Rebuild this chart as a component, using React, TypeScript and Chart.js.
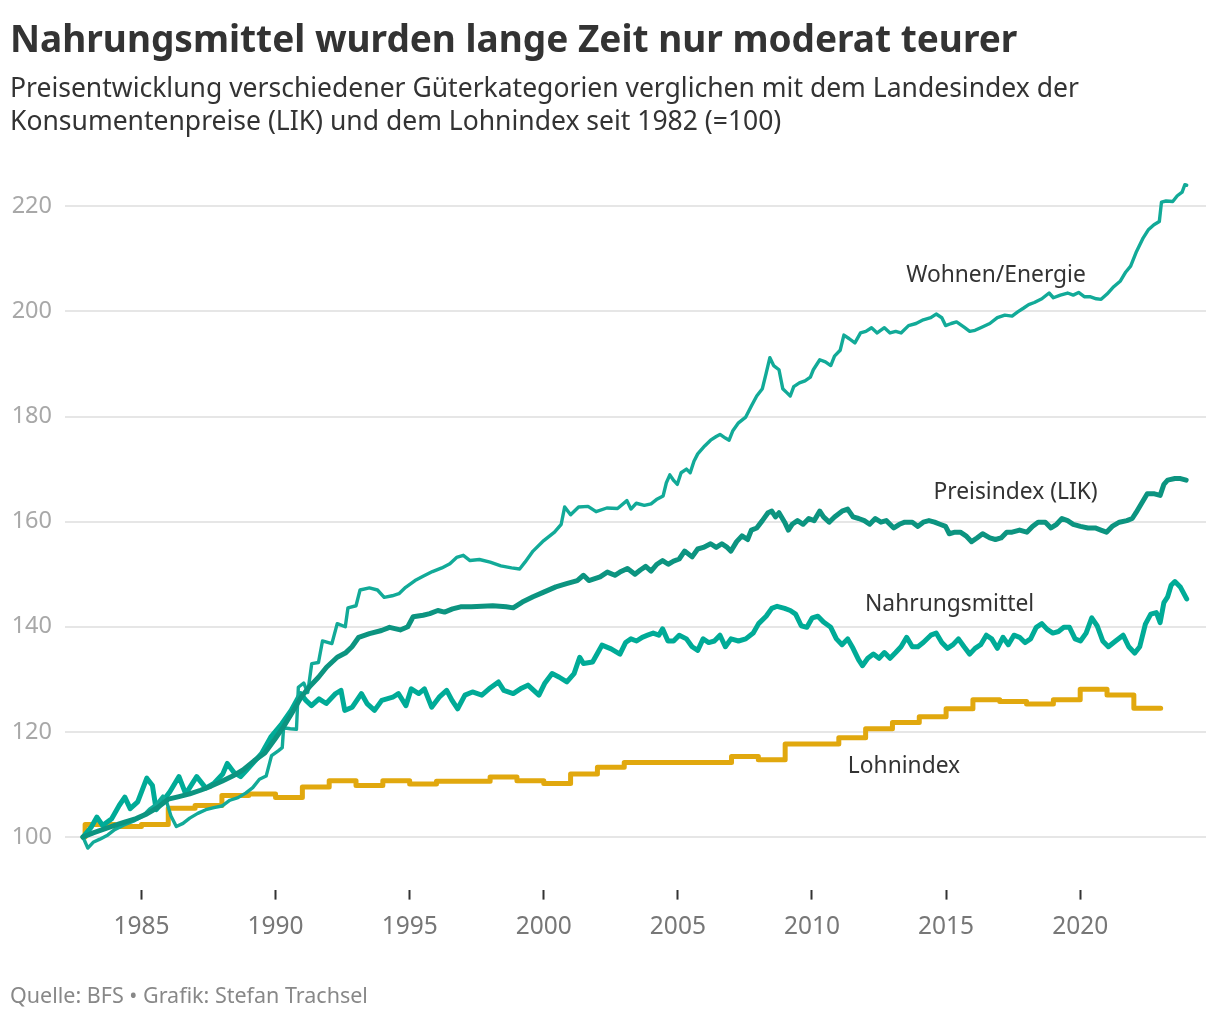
import React, { useEffect, useRef } from "react";
import { Chart, registerables } from "chart.js";

Chart.register(...registerables);

const FONT = '"Noto Sans", "DejaVu Sans", sans-serif';

const titleText = "Nahrungsmittel wurden lange Zeit nur moderat teurer";
const subtitleLine1 = "Preisentwicklung verschiedener Güterkategorien verglichen mit dem Landesindex der";
const subtitleLine2 = "Konsumentenpreise (LIK) und dem Lohnindex seit 1982 (=100)";
const sourceText = "Quelle: BFS • Grafik: Stefan Trachsel";

const yTicks = [100, 120, 140, 160, 180, 200, 220];
const xTicks = [1985, 1990, 1995, 2000, 2005, 2010, 2015, 2020];

// [year, index]
const wohnenEnergie: [number, number][] = [
  [1982.82, 100], [1983.0, 97.9], [1983.2, 99.0], [1983.45, 99.6], [1983.75, 100.4], [1984.0, 101.4],
  [1984.35, 102.3], [1984.7, 103.0], [1985.05, 104.0], [1985.3, 105.3], [1985.55, 106.2], [1985.8, 107.8],
  [1985.95, 106.5], [1986.1, 104.0], [1986.3, 102.0], [1986.55, 102.6], [1986.8, 103.6], [1987.1, 104.5],
  [1987.4, 105.2], [1987.7, 105.6], [1988.0, 105.9], [1988.3, 107.0], [1988.6, 107.5], [1988.9, 108.4],
  [1989.15, 109.4], [1989.4, 111.0], [1989.65, 111.6], [1989.85, 115.5], [1990.1, 116.4], [1990.25, 117.0],
  [1990.3, 120.8], [1990.55, 120.6], [1990.78, 120.5], [1990.85, 128.5], [1991.05, 129.3], [1991.2, 127.5],
  [1991.35, 133.0], [1991.6, 133.2], [1991.75, 137.3], [1992.1, 136.8], [1992.3, 140.6], [1992.6, 140.0],
  [1992.7, 143.6], [1993.0, 144.0], [1993.15, 147.0], [1993.5, 147.4], [1993.8, 147.0], [1994.05, 145.6],
  [1994.35, 145.9], [1994.6, 146.3], [1994.85, 147.5], [1995.2, 148.8], [1995.5, 149.6], [1995.85, 150.5],
  [1996.2, 151.2], [1996.5, 152.0], [1996.75, 153.2], [1997.0, 153.6], [1997.25, 152.6], [1997.6, 152.8],
  [1998.0, 152.3], [1998.4, 151.6], [1998.8, 151.2], [1999.1, 151.0], [1999.3, 152.3], [1999.6, 154.4],
  [2000.0, 156.4], [2000.4, 158.0], [2000.65, 159.5], [2000.78, 162.8], [2001.0, 161.3], [2001.3, 162.8],
  [2001.65, 162.9], [2001.95, 161.9], [2002.35, 162.6], [2002.75, 162.5], [2003.1, 164.0], [2003.25, 162.4],
  [2003.45, 163.5], [2003.75, 163.1], [2004.0, 163.4], [2004.2, 164.2], [2004.45, 164.9], [2004.57, 167.4],
  [2004.7, 168.9], [2004.85, 167.8], [2004.98, 167.1], [2005.12, 169.3], [2005.32, 170.0], [2005.46, 169.3],
  [2005.6, 171.5], [2005.74, 172.9], [2006.0, 174.4], [2006.22, 175.5], [2006.43, 176.2], [2006.57, 176.6],
  [2006.77, 175.9], [2006.91, 175.5], [2007.05, 177.3], [2007.26, 178.8], [2007.53, 179.9], [2007.74, 182.0],
  [2007.94, 183.9], [2008.15, 185.3], [2008.29, 188.2], [2008.43, 191.2], [2008.57, 189.7], [2008.77, 188.9],
  [2008.91, 185.3], [2009.05, 184.6], [2009.19, 183.9], [2009.32, 185.7], [2009.53, 186.4], [2009.74, 186.8],
  [2009.94, 187.5], [2010.05, 188.9], [2010.29, 190.8], [2010.5, 190.4], [2010.7, 189.7], [2010.84, 191.5],
  [2011.05, 192.6], [2011.19, 195.5], [2011.39, 194.8], [2011.6, 194.0], [2011.81, 195.9], [2012.01, 196.2],
  [2012.22, 196.9], [2012.43, 195.9], [2012.7, 196.9], [2012.91, 195.9], [2013.12, 196.2], [2013.32, 195.9],
  [2013.6, 197.3], [2013.88, 197.7], [2014.15, 198.4], [2014.43, 198.8], [2014.63, 199.5], [2014.84, 198.8],
  [2014.98, 197.3], [2015.19, 197.7], [2015.39, 198.0], [2015.67, 197.0], [2015.88, 196.2], [2016.08, 196.4],
  [2016.29, 196.9], [2016.63, 197.7], [2016.91, 198.8], [2017.19, 199.3], [2017.46, 199.1], [2017.67, 199.9],
  [2017.88, 200.6], [2018.08, 201.3], [2018.29, 201.7], [2018.57, 202.4], [2018.84, 203.5], [2019.0, 202.6],
  [2019.26, 203.1], [2019.53, 203.5], [2019.74, 203.1], [2019.94, 203.6], [2020.15, 202.8], [2020.36, 202.8],
  [2020.6, 202.4], [2020.78, 202.3], [2021.0, 203.3], [2021.25, 204.7], [2021.5, 205.8], [2021.7, 207.5],
  [2021.88, 208.6], [2022.1, 211.4], [2022.35, 214.0], [2022.55, 215.6], [2022.75, 216.5], [2022.95, 217.1],
  [2023.03, 220.8], [2023.2, 221.0], [2023.45, 220.9], [2023.62, 222.0], [2023.8, 222.7], [2023.9, 224.1],
  [2023.97, 224.0],
];

const preisindexLIK: [number, number][] = [
  [1982.82, 100], [1983.2, 100.8], [1983.6, 101.5], [1984.0, 102.2], [1984.4, 102.9], [1984.8, 103.5],
  [1985.2, 104.4], [1985.6, 105.6], [1986.0, 107.2], [1986.4, 107.7], [1986.8, 108.2], [1987.2, 108.9],
  [1987.6, 109.7], [1988.0, 110.6], [1988.4, 111.6], [1988.8, 112.8], [1989.2, 114.5], [1989.6, 116.0],
  [1990.0, 118.8], [1990.3, 121.0], [1990.6, 123.5], [1990.95, 126.6], [1991.3, 128.8], [1991.6, 130.4],
  [1991.9, 132.3], [1992.3, 134.2], [1992.6, 135.0], [1992.85, 136.2], [1993.1, 138.0], [1993.5, 138.7],
  [1993.95, 139.3], [1994.25, 139.9], [1994.65, 139.4], [1994.93, 140.0], [1995.13, 141.9], [1995.5, 142.2],
  [1995.75, 142.5], [1996.05, 143.1], [1996.3, 142.8], [1996.6, 143.4], [1996.9, 143.8], [1997.3, 143.8],
  [1997.7, 143.9], [1998.1, 144.0], [1998.6, 143.8], [1998.86, 143.6], [1999.2, 144.7], [1999.6, 145.7],
  [2000.0, 146.6], [2000.45, 147.6], [2000.85, 148.2], [2001.25, 148.8], [2001.48, 149.8], [2001.68, 148.8],
  [2002.1, 149.5], [2002.37, 150.4], [2002.65, 149.8], [2002.84, 150.4], [2003.12, 151.1], [2003.4, 150.0],
  [2003.6, 150.8], [2003.8, 151.5], [2004.0, 150.6], [2004.22, 151.9], [2004.43, 152.6], [2004.64, 151.9],
  [2004.84, 152.5], [2005.05, 152.9], [2005.25, 154.4], [2005.53, 153.3], [2005.74, 154.8], [2005.95, 155.1],
  [2006.22, 155.8], [2006.43, 155.1], [2006.64, 155.8], [2006.84, 155.1], [2006.98, 154.4], [2007.19, 156.2],
  [2007.39, 157.3], [2007.6, 156.6], [2007.74, 158.4], [2007.94, 158.8], [2008.15, 160.2], [2008.36, 161.7],
  [2008.5, 162.0], [2008.64, 160.9], [2008.77, 161.7], [2008.98, 159.9], [2009.12, 158.4], [2009.26, 159.5],
  [2009.46, 160.2], [2009.67, 159.5], [2009.88, 160.6], [2010.08, 160.2], [2010.29, 162.0], [2010.43, 160.9],
  [2010.64, 159.9], [2010.84, 160.9], [2011.12, 162.0], [2011.33, 162.4], [2011.53, 160.9], [2011.74, 160.6],
  [2011.95, 160.2], [2012.15, 159.5], [2012.36, 160.6], [2012.57, 159.9], [2012.77, 160.2], [2013.05, 158.8],
  [2013.26, 159.5], [2013.46, 159.9], [2013.74, 159.9], [2013.95, 159.1], [2014.15, 159.9], [2014.36, 160.2],
  [2014.57, 159.9], [2014.77, 159.5], [2014.98, 159.1], [2015.12, 157.7], [2015.33, 158.0], [2015.53, 158.0],
  [2015.74, 157.3], [2015.95, 156.2], [2016.15, 156.9], [2016.36, 157.7], [2016.63, 156.9], [2016.84, 156.6],
  [2017.05, 156.9], [2017.26, 158.0], [2017.46, 158.0], [2017.74, 158.4], [2018.01, 158.0], [2018.22, 159.1],
  [2018.43, 159.9], [2018.7, 159.9], [2018.91, 158.8], [2019.12, 159.5], [2019.32, 160.6], [2019.53, 160.2],
  [2019.74, 159.5], [2020.01, 159.1], [2020.29, 158.8], [2020.56, 158.8], [2020.77, 158.4], [2020.98, 158.0],
  [2021.19, 159.1], [2021.46, 159.9], [2021.74, 160.2], [2021.94, 160.6], [2022.08, 161.7], [2022.29, 163.5],
  [2022.5, 165.3], [2022.77, 165.3], [2022.98, 165.0], [2023.12, 167.1], [2023.26, 167.9], [2023.53, 168.2],
  [2023.74, 168.2], [2023.95, 167.9],
];

const nahrungsmittel: [number, number][] = [
  [1982.82, 100], [1983.13, 101.9], [1983.34, 103.8], [1983.55, 102.2], [1983.89, 103.5], [1984.17, 106.0],
  [1984.38, 107.6], [1984.58, 105.4], [1984.86, 106.7], [1985.2, 111.2], [1985.41, 109.8], [1985.55, 105.2],
  [1985.75, 106.5], [1986.06, 108.6], [1986.4, 111.5], [1986.65, 108.2], [1987.06, 111.5], [1987.4, 109.3],
  [1987.7, 110.2], [1988.03, 112.0], [1988.2, 114.0], [1988.45, 112.3], [1988.7, 111.5], [1988.9, 112.6],
  [1989.2, 114.3], [1989.48, 115.9], [1989.82, 119.0], [1990.24, 121.6], [1990.58, 124.1], [1990.93, 127.3],
  [1991.13, 126.0], [1991.34, 125.0], [1991.62, 126.3], [1991.89, 125.4], [1992.24, 127.3], [1992.44, 127.9],
  [1992.58, 124.1], [1992.86, 124.7], [1993.2, 127.3], [1993.41, 125.4], [1993.69, 124.1], [1993.96, 126.0],
  [1994.37, 126.6], [1994.58, 127.3], [1994.86, 125.0], [1995.06, 128.2], [1995.34, 127.3], [1995.55, 128.2],
  [1995.82, 124.7], [1996.1, 126.6], [1996.38, 127.9], [1996.58, 126.0], [1996.79, 124.4], [1997.06, 127.0],
  [1997.34, 127.6], [1997.69, 127.0], [1997.96, 128.2], [1998.31, 129.5], [1998.51, 127.9], [1998.86, 127.3],
  [1999.13, 128.2], [1999.41, 128.9], [1999.82, 127.0], [2000.03, 129.2], [2000.31, 131.1], [2000.58, 130.4],
  [2000.86, 129.5], [2001.13, 131.1], [2001.34, 134.2], [2001.48, 133.0], [2001.82, 133.3], [2002.17, 136.5],
  [2002.51, 135.8], [2002.84, 134.8], [2003.05, 137.0], [2003.25, 137.7], [2003.46, 137.3], [2003.67, 138.0],
  [2003.87, 138.4], [2004.08, 138.8], [2004.29, 138.4], [2004.43, 139.6], [2004.63, 137.3], [2004.84, 137.3],
  [2005.05, 138.4], [2005.32, 137.7], [2005.53, 136.2], [2005.74, 135.5], [2005.94, 137.7], [2006.15, 137.0],
  [2006.36, 137.3], [2006.57, 138.4], [2006.77, 136.2], [2006.98, 137.7], [2007.26, 137.3], [2007.53, 137.7],
  [2007.81, 138.8], [2008.01, 140.6], [2008.29, 142.0], [2008.5, 143.5], [2008.7, 143.9], [2008.98, 143.5],
  [2009.19, 143.1], [2009.39, 142.4], [2009.6, 140.2], [2009.81, 139.9], [2010.01, 141.7], [2010.22, 142.0],
  [2010.43, 140.9], [2010.7, 139.9], [2010.91, 137.7], [2011.12, 136.6], [2011.33, 137.7], [2011.53, 135.9],
  [2011.74, 133.7], [2011.88, 132.6], [2012.08, 134.0], [2012.29, 134.8], [2012.5, 134.0], [2012.7, 135.1],
  [2012.91, 134.0], [2013.12, 135.1], [2013.32, 136.2], [2013.53, 138.0], [2013.74, 136.2], [2013.95, 136.2],
  [2014.15, 137.0], [2014.43, 138.4], [2014.63, 138.8], [2014.84, 137.0], [2015.05, 135.9], [2015.26, 136.6],
  [2015.46, 137.7], [2015.67, 136.2], [2015.88, 134.8], [2016.08, 135.9], [2016.29, 136.6], [2016.5, 138.4],
  [2016.7, 137.7], [2016.91, 135.9], [2017.12, 138.0], [2017.32, 136.6], [2017.53, 138.4], [2017.74, 138.0],
  [2017.94, 137.0], [2018.15, 137.7], [2018.36, 139.9], [2018.57, 140.6], [2018.77, 139.5], [2018.98, 138.8],
  [2019.19, 139.1], [2019.39, 139.9], [2019.6, 139.9], [2019.81, 137.7], [2020.01, 137.3], [2020.22, 138.8],
  [2020.43, 141.7], [2020.63, 140.2], [2020.84, 137.3], [2021.05, 136.2], [2021.32, 137.3], [2021.6, 138.4],
  [2021.81, 136.2], [2022.03, 135.0], [2022.22, 136.2], [2022.43, 140.5], [2022.63, 142.4], [2022.84, 142.7],
  [2022.98, 140.8], [2023.12, 144.6], [2023.26, 145.7], [2023.39, 147.9], [2023.53, 148.6], [2023.74, 147.5],
  [2023.97, 145.3],
];

// annual wage index, drawn as steps (value of year Y held until Y+1)
const lohnindex: [number, number][] = [
  [1982.82, 100], [1982.9, 102.4], [1984, 102.0], [1985, 102.4], [1986, 105.5], [1987, 106.0],
  [1988, 107.9], [1989, 108.2], [1990, 107.5], [1991, 109.5], [1992, 110.7], [1993, 109.8],
  [1994, 110.7], [1995, 110.1], [1996, 110.6], [1997, 110.6], [1998, 111.4], [1999, 110.7],
  [2000, 110.2], [2001, 112.0], [2002, 113.3], [2003, 114.2], [2004, 114.2], [2005, 114.2],
  [2006, 114.2], [2007, 115.3], [2008, 114.7], [2009, 117.7], [2010, 117.7], [2011, 118.9],
  [2012, 120.6], [2013, 121.8], [2014, 122.9], [2015, 124.4], [2016, 126.1], [2017, 125.8],
  [2018, 125.3], [2019, 126.1], [2020, 128.1], [2021, 127.0], [2022, 124.5], [2023, 124.5],
];

const labelTexts = ["Wohnen/Energie", "Preisindex (LIK)", "Nahrungsmittel", "Lohnindex"];
const labelYears = [2016.86, 2017.59, 2015.13, 2013.43];
const labelValues = [206.9, 165.6, 144.3, 113.5];

const toXY = (arr: [number, number][]) => arr.map(([x, y]) => ({ x, y }));

const seriesLabelPlugin = {
  id: "seriesLabels",
  afterDatasetsDraw(chart: any) {
    const { ctx } = chart;
    const xs = chart.scales.x;
    const ys = chart.scales.y;
    ctx.save();
    ctx.font = `22.8px ${FONT}`;
    ctx.fillStyle = "#333333";
    ctx.textAlign = "center";
    ctx.textBaseline = "middle";
    labelTexts.forEach((t, i) => {
      ctx.fillText(t, xs.getPixelForValue(labelYears[i]), ys.getPixelForValue(labelValues[i]));
    });
    ctx.restore();
  },
};

export default function App() {
  const canvasRef = useRef<HTMLCanvasElement | null>(null);

  useEffect(() => {
    if (!canvasRef.current) return;
    const chart = new Chart(canvasRef.current, {
      type: "line",
      data: {
        datasets: [
          {
            label: "Preisindex (LIK)",
            data: toXY(preisindexLIK),
            borderColor: "#0c9480",
            borderWidth: 5,
            order: 0,
          },
          {
            label: "Wohnen/Energie",
            data: toXY(wohnenEnergie),
            borderColor: "#12aa98",
            borderWidth: 3.4,
            order: 1,
          },
          {
            label: "Nahrungsmittel",
            data: toXY(nahrungsmittel),
            borderColor: "#00ab97",
            borderWidth: 5,
            order: 2,
          },
          {
            label: "Lohnindex",
            data: toXY(lohnindex),
            borderColor: "#e1a80e",
            borderWidth: 5,
            stepped: "before",
            order: 3,
          },
        ] as any,
      },
      options: {
        animation: false,
        responsive: false,
        maintainAspectRatio: false,
        devicePixelRatio: 1,
        layout: { padding: { top: 180, right: 14, bottom: 0, left: 0 } },
        elements: {
          point: { radius: 0, hoverRadius: 0 },
          line: { tension: 0, borderJoinStyle: "round", borderCapStyle: "round", fill: false },
        },
        plugins: {
          legend: { display: false },
          tooltip: { enabled: false },
        },
        scales: {
          x: {
            type: "linear",
            min: 1982.15,
            max: 2024.69,
            afterBuildTicks: (s: any) => {
              s.ticks = xTicks.map((v) => ({ value: v }));
            },
            afterFit: (s: any) => {
              s.height = 130.4;
            },
            ticks: {
              autoSkip: false,
              maxRotation: 0,
              color: "#777777",
              font: { family: FONT, size: 24.5 },
              padding: 13,
              callback: (v: any) => String(v),
            },
            grid: {
              drawOnChartArea: false,
              drawTicks: true,
              tickLength: 10,
              tickColor: "#333333",
              tickWidth: 2,
            },
            border: { display: false },
          },
          y: {
            type: "linear",
            min: 90,
            max: 225,
            afterBuildTicks: (s: any) => {
              s.ticks = yTicks.map((v) => ({ value: v }));
            },
            afterFit: (s: any) => {
              s.width = 65;
            },
            ticks: {
              color: "#a8a8a8",
              font: { family: FONT, size: 23.5 },
              padding: 13,
              callback: (v: any) => String(v),
            },
            grid: {
              color: "#e6e6e6",
              lineWidth: 2,
              drawTicks: false,
            },
            border: { display: false },
          },
        },
      } as any,
      plugins: [seriesLabelPlugin],
    });
    return () => chart.destroy();
  }, []);

  return (
    <div
      style={{
        position: "absolute",
        left: 0,
        top: 0,
        width: 1220,
        height: 1020,
        background: "#ffffff",
        fontFamily: FONT,
        overflow: "hidden",
      }}
    >
      <canvas
        ref={canvasRef}
        width={1220}
        height={1020}
        style={{ position: "absolute", left: 0, top: 0, width: 1220, height: 1020 }}
      />
      <div
        style={{
          position: "absolute",
          left: 10,
          top: 12,
          fontSize: 37,
          fontWeight: 700,
          lineHeight: "52px",
          color: "#333333",
          whiteSpace: "nowrap",
        }}
      >
        {titleText}
      </div>
      <div
        style={{
          position: "absolute",
          left: 10,
          top: 71,
          fontSize: 26.5,
          lineHeight: "33px",
          color: "#333333",
          whiteSpace: "nowrap",
        }}
      >
        {subtitleLine1}
        <br />
        {subtitleLine2}
      </div>
      <div
        style={{
          position: "absolute",
          left: 10,
          top: 981,
          fontSize: 21.5,
          lineHeight: "27px",
          color: "#888888",
          whiteSpace: "nowrap",
        }}
      >
        {sourceText}
      </div>
    </div>
  );
}
